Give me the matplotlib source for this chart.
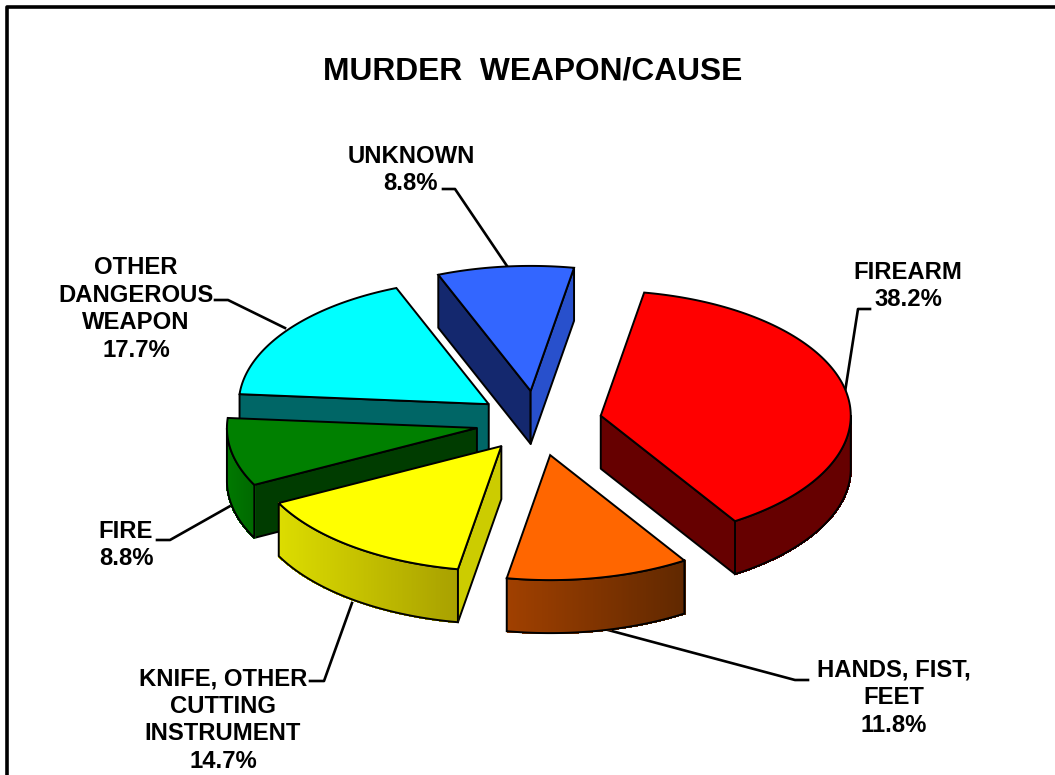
import numpy as np
import matplotlib
matplotlib.use('Agg')
import matplotlib.pyplot as plt
from matplotlib.patches import Polygon
from matplotlib.colors import to_rgb

labels = ['FIREARM\n38.2%', 'HANDS, FIST,\nFEET\n11.8%', 'KNIFE, OTHER\nCUTTING\nINSTRUMENT\n14.7%',
          'FIRE\n8.8%', 'OTHER\nDANGEROUS\nWEAPON\n17.7%', 'UNKNOWN\n8.8%']
values = [38.2, 11.8, 14.7, 8.8, 17.7, 8.8]
explode = [0.26, 0.27, 0.24, 0.245, 0.24, 0.25]
top_colors = ['#ff0000', '#ff6600', '#ffff00', '#008000', '#00ffff', '#3366ff']
# colour of the curved side at its left and right end
curve_left = ['#660000', '#a04000', '#dcdc00', '#007800', '#006666', '#14286e']
curve_right = ['#660000', '#602800', '#a8a000', '#006800', '#006666', '#14286e']
# colour of the two straight sides (None = cannot be seen)
start_side = [None, None, '#cccc00', '#003c00', '#006666', '#14286e']
end_side = ['#660000', None, None, None, None, '#2850cc']

# leader lines and where the label text sits, in picture pixels
label_xy = [(908, 286), (894, 698), (223, 720), (126, 545), (136, 309), (411, 170)]
leaders = [[(870, 309), (858, 309), (845, 392)],
           [(808, 680), (795, 680), (608, 630)],
           [(310, 681), (324, 681), (352, 603)],
           [(157, 540), (170, 540), (232, 505)],
           [(215, 300), (228, 300), (285, 328)],
           [(443, 189), (455, 189), (507, 266)]]

CX, CY = 537, 422
RX, RY = 250, 125
DEPTH = 53
START = 80


def arc(ax0, ay0, t1, t2, n=120):
    t = np.radians(np.linspace(t1, t2, n))
    return ax0 + RX * np.cos(t), ay0 - RY * np.sin(t)


def draw_slice(ax, i, t1, t2):
    mid = np.radians((t1 + t2) / 2)
    ax0 = CX + explode[i] * RX * np.cos(mid)
    ay0 = CY - explode[i] * RY * np.sin(mid)

    # straight sides first
    for t, col in ((t1, start_side[i]), (t2, end_side[i])):
        if col is None:
            continue
        x, y = arc(ax0, ay0, t, t, 1)
        pts = [(ax0, ay0), (x[0], y[0]), (x[0], y[0] + DEPTH), (ax0, ay0 + DEPTH)]
        ax.add_patch(Polygon(pts, fc=col, ec='black', lw=1.4, joinstyle='round'))

    # curved side, only the part that faces the viewer
    lo = max(t2, -180) if t1 > -180 else t2
    hi = min(t1, 0)
    if t1 <= -180:
        lo, hi = 1, 0
    if lo < hi:
        x, y = arc(ax0, ay0, hi, lo)
        left, right = to_rgb(curve_left[i]), to_rgb(curve_right[i])
        xmin, xmax = x.min(), x.max()
        for k in range(len(x) - 1):
            f = ((x[k] + x[k + 1]) / 2 - xmin) / (xmax - xmin)
            c = [left[j] + (right[j] - left[j]) * f for j in range(3)]
            pts = [(x[k], y[k]), (x[k + 1], y[k + 1]), (x[k + 1], y[k + 1] + DEPTH), (x[k], y[k] + DEPTH)]
            ax.add_patch(Polygon(pts, fc=c, ec=c, lw=1.0, antialiased=False))
        outline = list(zip(x, y)) + list(zip(x[::-1], y[::-1] + DEPTH))
        ax.add_patch(Polygon(outline, fill=False, ec='black', lw=1.4))

    # top face
    x, y = arc(ax0, ay0, t1, t2)
    pts = [(ax0, ay0)] + list(zip(x, y))
    ax.add_patch(Polygon(pts, fc=top_colors[i], ec='black', lw=1.4))


def main():
    plt.rcParams['font.family'] = ['Liberation Sans', 'DejaVu Sans']
    fig = plt.figure(figsize=(10.55, 7.75), dpi=100)
    ax = fig.add_axes([0, 0, 1, 1])
    ax.set_xlim(0, 1055)
    ax.set_ylim(775, 0)
    ax.axis('off')

    # outer frame, only left and top are inside the picture
    ax.plot([7, 7, 1060], [790, 7, 7], color='black', lw=2.6)

    ax.text(533, 71, 'MURDER  WEAPON/CAUSE', ha='center', va='center', fontsize=22.9, fontweight='bold')

    edges = START - np.cumsum([0] + values) * 3.6
    for i in [5, 4, 3, 2, 1, 0]:
        draw_slice(ax, i, edges[i], edges[i + 1])

    for i, lab in enumerate(labels):
        pts = np.array(leaders[i])
        ax.plot(pts[:, 0], pts[:, 1], color='black', lw=1.9, zorder=0.5)
        ax.text(label_xy[i][0], label_xy[i][1], lab, ha='center', va='center', fontsize=17.2,
                fontweight='bold', linespacing=1.25)

    fig.savefig('out.png', dpi=100)


if __name__ == '__main__':
    main()
